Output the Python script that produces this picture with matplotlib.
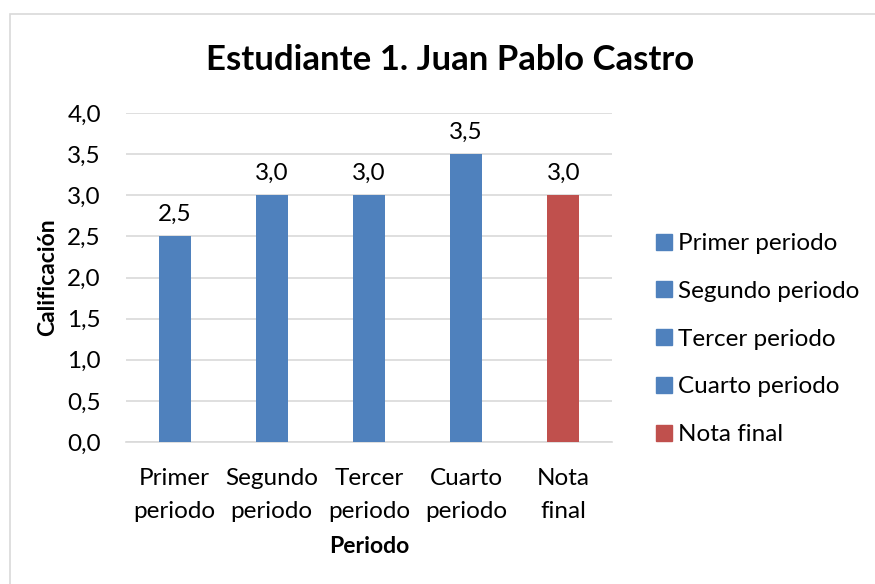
import matplotlib
matplotlib.use("Agg")
import matplotlib.pyplot as plt
from matplotlib.patches import Rectangle
from matplotlib.lines import Line2D

categories = ["Primer\nperiodo", "Segundo\nperiodo", "Tercer\nperiodo", "Cuarto\nperiodo", "Nota\nfinal"]
legend_labels = ["Primer periodo", "Segundo periodo", "Tercer periodo", "Cuarto periodo", "Nota final"]
values = [2.5, 3.0, 3.0, 3.5, 3.0]
colors = ["#4F81BD", "#4F81BD", "#4F81BD", "#4F81BD", "#C0504D"]
yticks = [0.0, 0.5, 1.0, 1.5, 2.0, 2.5, 3.0, 3.5, 4.0]

plt.rcParams['font.family'] = ['Lato', 'DejaVu Sans']

W, H = 875, 584
fig = plt.figure(figsize=(W / 100, H / 100), dpi=100)
fig.patch.set_facecolor("white")

# outer chart border
fig.patches.append(Rectangle((10 / W, -0.01), 1.02, 1 - 14 / H + 0.01, transform=fig.transFigure,
                             fill=False, edgecolor="#D9D9D9", linewidth=1.2))

left, right, top, bottom = 126, 612, 113, 442
ax = fig.add_axes([left / W, 1 - bottom / H, (right - left) / W, (bottom - top) / H])

x = list(range(len(values)))
bars = ax.bar(x, values, width=0.33, color=colors, zorder=3)
ax.set_xlim(-0.5, len(values) - 0.5)
ax.set_ylim(0, 4.0)
ax.set_yticks(yticks)
ax.set_yticklabels([f"{v:.1f}".replace(".", ",") for v in yticks])
ax.set_xticks(x)
ax.set_xticklabels(categories, linespacing=1.7)
ax.tick_params(axis="both", length=0, labelsize=17.5, colors="#000000")
ax.tick_params(axis="y", pad=18)
ax.tick_params(axis="x", pad=19)
ax.grid(axis="y", color="#D9D9D9", linewidth=1.2, zorder=0)
for s in ["top", "right", "left"]:
    ax.spines[s].set_visible(False)
ax.spines["bottom"].set_color("#D9D9D9")
ax.spines["bottom"].set_linewidth(1.2)

for xi, v in zip(x, values):
    ax.annotate(f"{v:.1f}".replace(".", ","), (xi, v), xytext=(0, 8), textcoords="offset points",
                ha="center", va="bottom", fontsize=17.5)

ax.set_ylabel("Calificación", fontsize=16.5, fontweight="bold", labelpad=7)
ax.set_xlabel("Periodo", fontsize=16.5, fontweight="bold", labelpad=10)

fig.text(450 / W, 1 - 60 / H, "Estudiante 1. Juan Pablo Castro", ha="center", va="center",
         fontsize=25, fontweight="bold")

handles = [Line2D([0], [0], marker="s", linestyle="none", markersize=11, markerfacecolor=c,
                  markeredgecolor=c) for c in colors]
fig.legend(handles, legend_labels, loc="center left", bbox_to_anchor=(643 / W, 1 - 339 / H),
           frameon=False, fontsize=17.5, handlelength=0.7, handletextpad=0.25, labelspacing=1.1,
           borderpad=0)

fig.savefig("out.png", dpi=100)
